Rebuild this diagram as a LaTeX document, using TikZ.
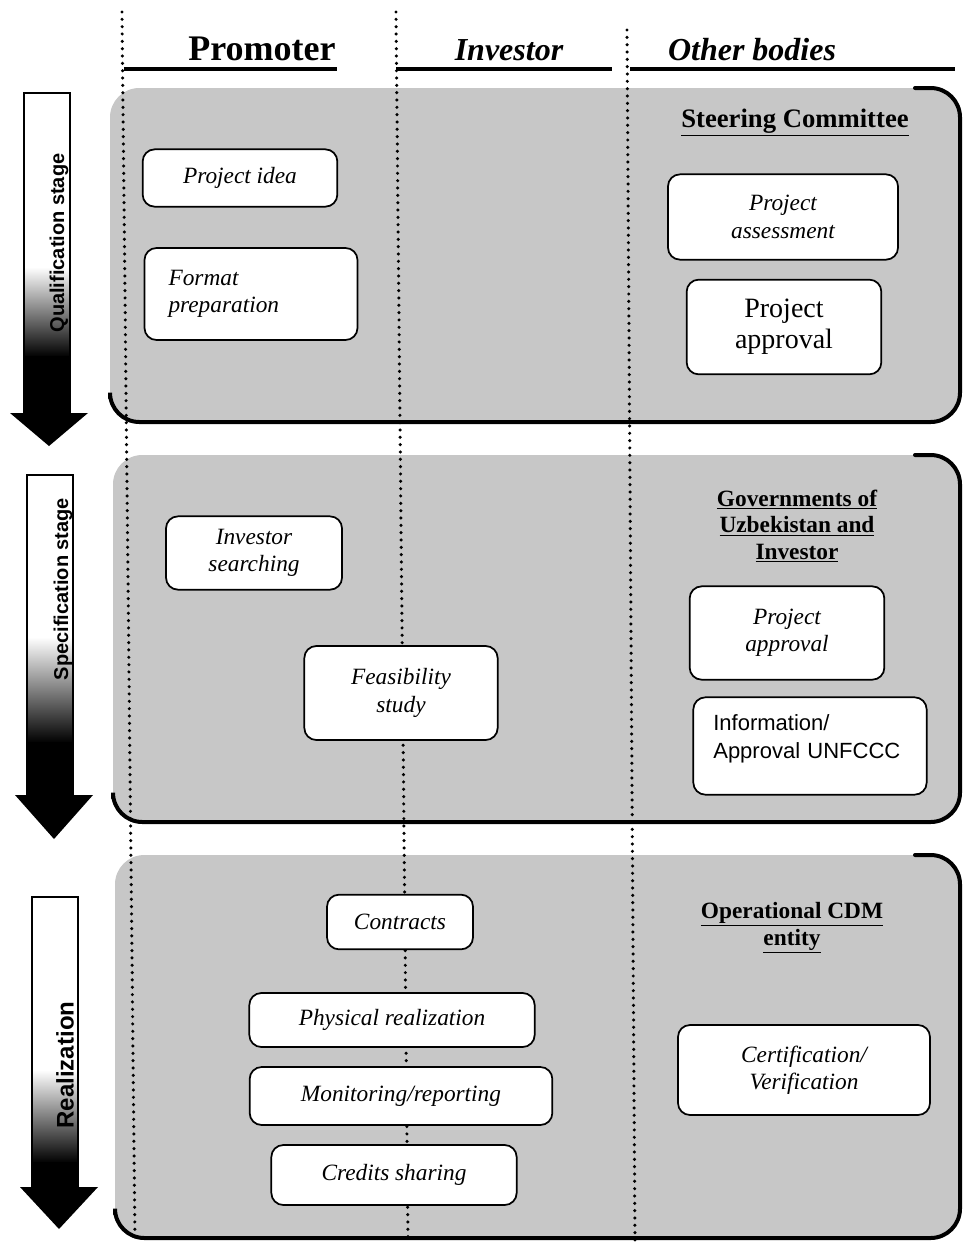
\documentclass[tikz,border=0pt]{standalone}
\usepackage{fontspec}
\setmainfont{Liberation Serif}
\newfontfamily\labelsans{Liberation Sans}
\begin{document}
\begin{tikzpicture}[x=0.75pt,y=-0.75pt,
  panel/.style={fill=black!22, rounded corners=22pt},
  paneledge/.style={line width=3pt, rounded corners=22pt, line cap=round},
  sep/.style={line width=2.6pt, line cap=round, dash pattern=on 0pt off 5.5pt},
  colrule/.style={line width=3pt},
  colhead/.style={font=\fontsize{27}{30}\selectfont\bfseries, anchor=base, inner sep=0pt},
  bodyhead/.style={font=\fontsize{17.5}{20}\selectfont\bfseries, align=center, inner sep=0pt},
  stepbox/.style={draw, fill=white, line width=1.3pt, rounded corners=9pt, align=center,
    inner sep=0pt, font=\fontsize{17.5}{20.5}\selectfont\itshape},
  stagelabel/.style={rotate=90, inner sep=0pt, font=\labelsans\bfseries\fontsize{15}{18}\selectfont},
  shaft/.style={draw=black, line width=0.9pt},
]
\useasboundingbox (0,0) rectangle (965,1242);

% stage panels
\fill[panel] (110,88) rectangle (960,422);
\fill[panel] (113,455) rectangle (960,822);
\fill[panel] (115,855) rectangle (960,1238);

% column separators
\draw[sep] (122,12) -- (135,1242);
\draw[sep] (396,12) -- (408,1242);
\draw[sep] (627,30) -- (635,1242);

% panel edges (right and bottom)
\draw[paneledge] (915,88) -- (960,88) -- (960,422) -- (110,422) -- (110,398);
\draw[paneledge] (915,455) -- (960,455) -- (960,822) -- (113,822) -- (113,798);
\draw[paneledge] (915,855) -- (960,855) -- (960,1238) -- (115,1238) -- (115,1214);

% column headings
\node[colhead] (promoter) at (262,60) {Promoter};
\node[colhead, font=\fontsize{24}{28}\selectfont\bfseries\itshape] (investor) at (509,60) {Investor};
\node[colhead, font=\fontsize{24}{28}\selectfont\bfseries\itshape] (other) at (752,60) {Other bodies};
\draw[colrule] (124,69) -- (337,69);
\draw[colrule] (396,69) -- (612,69);
\draw[colrule] (630,69) -- (955,69);

% qualification stage
\node[stepbox, minimum width=146pt, minimum height=43pt] (idea) at (240,178) {Project idea};
\node[stepbox, align=left, text width=123.75pt, inner xsep=18pt, minimum height=69pt] (format) at (251,294) {Format\\preparation};
\node[bodyhead, font=\fontsize{20}{23}\selectfont\bfseries] (steering) at (795,123) {\underline{Steering Committee}};
\node[stepbox, minimum width=172.5pt, minimum height=64pt] (assess) at (783,217) {Project\\assessment};
\node[stepbox, font=\fontsize{21}{23}\selectfont, minimum width=146pt, minimum height=71pt] (approveA) at (784,327) {Project\\approval};

% specification stage
\node[stepbox, minimum width=132pt, minimum height=55pt] (search) at (254,553) {Investor\\searching};
\node[stepbox, minimum width=145pt, minimum height=70.5pt] (feas) at (401,693) {Feasibility\\study};
\node[bodyhead] (govts) at (797,526) {\underline{Governments of}\\\underline{Uzbekistan and}\\\underline{Investor}};
\node[stepbox, minimum width=146pt, minimum height=70pt] (approveB) at (787,633) {Project\\approval};
\node[stepbox, font=\labelsans\fontsize{16.5}{21}\selectfont, align=left, text width=145pt, inner xsep=15pt, minimum height=73pt] (unfccc) at (810,746) {Information/\\Approval UNFCCC\rule[-14pt]{0pt}{0pt}};

% realization
\node[stepbox, minimum width=109.5pt, minimum height=41pt] (contracts) at (400,922) {Contracts};
\node[bodyhead] (doe) at (792,928) {\underline{Operational CDM}\\\underline{entity}};
\node[stepbox, minimum width=214pt, minimum height=40.5pt] (phys) at (392,1020) {Physical realization};
\node[stepbox, minimum width=227pt, minimum height=43.5pt] (monit) at (401,1096) {Monitoring/reporting};
\node[stepbox, minimum width=184pt, minimum height=45pt] (credits) at (394,1175) {Credits sharing};
\node[stepbox, minimum width=189pt, minimum height=67.5pt] (cert) at (804,1070) {Certification/\\Verification};

% stage arrows: white shaft darkening to a black head
\fill[white] (24,93) rectangle (70,267);
\shade[top color=white, bottom color=black] (24,267) rectangle (70,357);
\fill[black] (24,356) rectangle (70,414);
\draw[shaft] (24,413) -- (24,93) -- (70,93) -- (70,413);
\fill[black] (10,413) -- (88,413) -- (49,446) -- cycle;
\node[stagelabel] (qual) at (59,243) {Qualification stage};

\fill[white] (27,475) rectangle (73,637);
\shade[top color=white, bottom color=black] (27,637) rectangle (73,743);
\fill[black] (27,742) rectangle (73,796);
\draw[shaft] (27,795) -- (27,475) -- (73,475) -- (73,795);
\fill[black] (15,795) -- (93,795) -- (54,839) -- cycle;
\node[stagelabel] (spec) at (63,589) {Specification stage};

\fill[white] (32,897) rectangle (78,1070);
\shade[top color=white, bottom color=black] (32,1070) rectangle (78,1163);
\fill[black] (32,1162) rectangle (78,1188);
\draw[shaft] (32,1187) -- (32,897) -- (78,897) -- (78,1187);
\fill[black] (20,1187) -- (98,1187) -- (59,1229) -- cycle;
\node[stagelabel, font=\labelsans\bfseries\fontsize{18}{21}\selectfont] (real) at (65,1065) {Realization};
\end{tikzpicture}
\end{document}
